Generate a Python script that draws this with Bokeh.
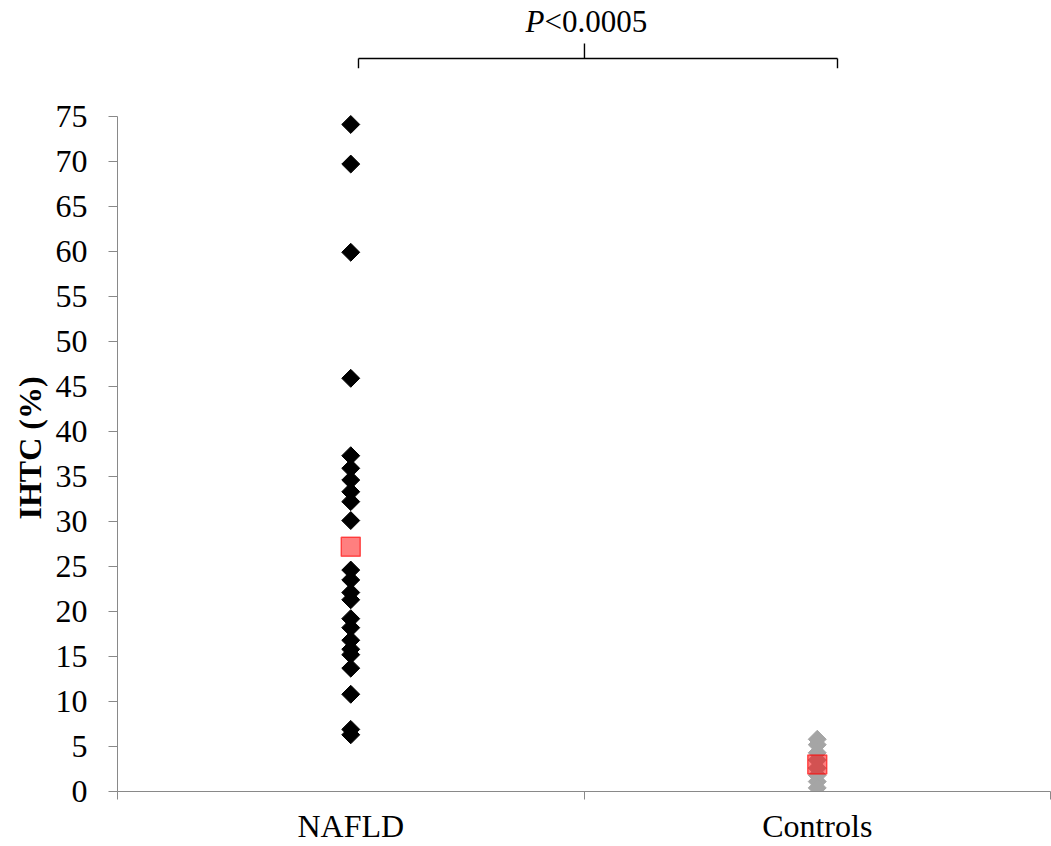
import math
from bokeh.plotting import figure
from bokeh.models import FixedTicker, Range1d, Title
from bokeh.embed import file_html
from bokeh.resources import INLINE
from bokeh.core.properties import value

# ---------------- data ----------------
categories = ["NAFLD", "Controls"]
category_pos = [1, 2]
nafld_ihtc = [74.1, 69.7, 59.9, 45.9, 37.3, 35.9, 34.6, 33.3, 32.2, 30.1,
              24.6, 23.5, 22.1, 21.3, 19.2, 18.2, 16.8, 15.8, 15.2, 13.7,
              10.8, 6.9, 6.3]
controls_ihtc = [5.8, 5.2, 4.3, 3.5, 2.6, 1.8, 1.1, 0.4]
group_means = [27.2, 3.0]
y_ticks = list(range(0, 80, 5))
y_title = "IHTC (%)"
p_text_italic = "P"
p_text_rest = "<0.0005"

FONT = "Liberation Serif"
AXIS_GRAY = "#898989"

p = figure(width=1051, height=846, output_backend="svg", toolbar_location=None,
           x_range=Range1d(0.5, 2.5), y_range=Range1d(0, 87.87))
p.min_border_left = 117
p.min_border_right = 1
p.min_border_top = 0
p.min_border_bottom = 54
p.outline_line_color = None
p.xgrid.visible = False
p.ygrid.visible = False
p.background_fill_color = "white"
p.border_fill_color = "white"

# y axis
ya = p.yaxis[0]
ya.ticker = FixedTicker(ticks=y_ticks)
ya.bounds = (0, 75)
ya.axis_line_color = AXIS_GRAY
ya.major_tick_line_color = AXIS_GRAY
ya.major_tick_out = 9
ya.major_tick_in = 0
ya.minor_tick_line_color = None
ya.major_label_text_font = FONT
ya.major_label_text_font_size = "32px"
ya.major_label_text_color = "black"
ya.major_label_standoff = 21

# y axis title, placed so that it is centred on the 0-75 span
p.add_layout(Title(text=y_title, align="left", offset=272, standoff=10,
                   text_font=FONT, text_font_style="bold", text_font_size="32px",
                   text_color="black"), "left")

# x axis
xa = p.xaxis[0]
xa.ticker = FixedTicker(ticks=category_pos, minor_ticks=[0.5, 1.5, 2.5])
xa.major_label_overrides = {pos: name for pos, name in zip(category_pos, categories)}
xa.axis_line_color = AXIS_GRAY
xa.major_tick_line_color = None
xa.major_tick_out = 0
xa.major_tick_in = 0
xa.minor_tick_line_color = AXIS_GRAY
xa.minor_tick_out = 8
xa.minor_tick_in = 0
xa.major_label_text_font = FONT
xa.major_label_text_font_size = "32px"
xa.major_label_text_color = "black"
xa.major_label_standoff = 8

# data points
p.scatter(x=[category_pos[0]] * len(nafld_ihtc), y=nafld_ihtc, marker="square",
          angle=math.pi / 4, size=12.7, fill_color="black", line_color="black")
p.scatter(x=[category_pos[1]] * len(controls_ihtc), y=controls_ihtc, marker="square",
          angle=math.pi / 4, size=12.7, fill_color="#A5A5A5", line_color="#A5A5A5")
p.scatter(x=category_pos, y=group_means, marker="square", size=19,
          fill_color="red", fill_alpha=0.5, line_color="red", line_alpha=0.6,
          line_width=1.5)

# significance bracket
bl, br, bc = 1.0166, 2.0434, 1.501
by, bend, btop = 81.43, 80.33, 83.10
p.segment(x0=[bl, bl, br, bc], y0=[by, by, by, by],
          x1=[br, bl, br, bc], y1=[by, bend, bend, btop],
          line_color="black", line_width=1.4)

p.text(x=[1.4153], y=[85.54], text=[p_text_italic], text_font=value(FONT),
       text_font_style="italic", text_font_size="31px", text_align="right",
       text_baseline="alphabetic", text_color="black")
p.text(x=[1.4153], y=[85.54], text=[p_text_rest], text_font=value(FONT),
       text_font_size="31px", text_align="left",
       text_baseline="alphabetic", text_color="black")

open("out.html", "w").write(file_html(p, INLINE))
